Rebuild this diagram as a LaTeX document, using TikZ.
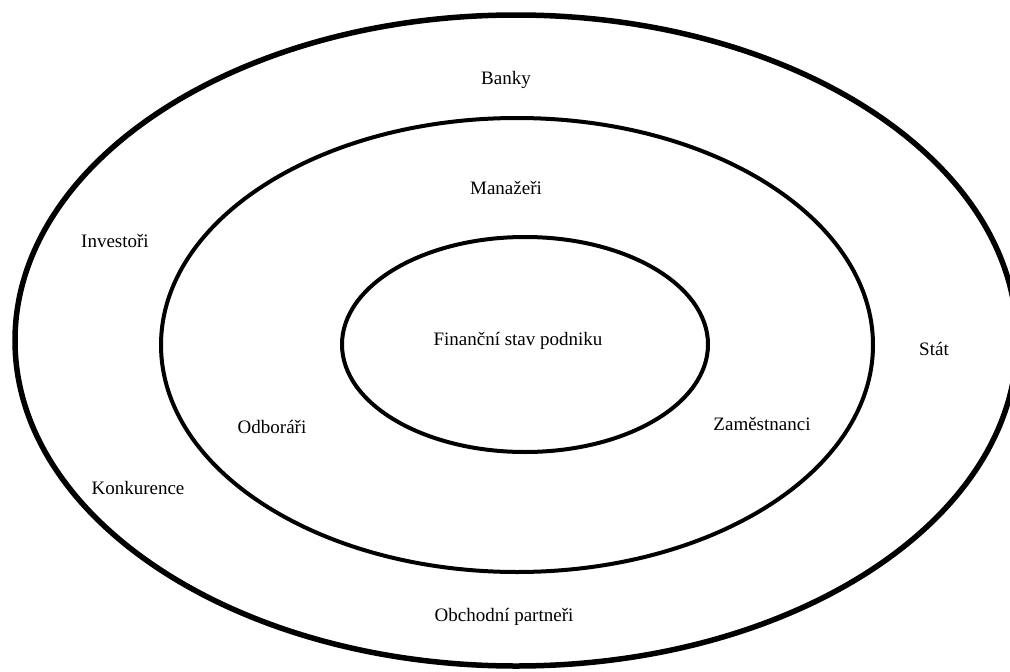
\documentclass[tikz,border=0pt]{standalone}
\usepackage{fontspec}
\setmainfont{Liberation Serif}
\begin{document}
\begin{tikzpicture}[x=1pt,y=-1pt,
  ring/.style={draw=black},
  lbl/.style={font=\fontsize{19}{22}\selectfont, inner sep=0pt}]
\useasboundingbox[fill=white] (0,0) rectangle (1010,672);
\begin{scope}
\clip (0,0) rectangle (1010,672);
\draw[ring, line width=5.5pt] (516,340.5) ellipse [x radius=501, y radius=325.5];
\end{scope}
\draw[ring, line width=4pt] (517,345) ellipse [x radius=356, y radius=227];
\draw[ring, line width=4pt] (525,344.5) ellipse [x radius=183, y radius=107.5];
\node[lbl] (banky) at (506,80) {Banky};
\node[lbl] (man) at (506,188) {Manažeři};
\node[lbl] (inv) at (115,241) {Investoři};
\node[lbl] (fin) at (518,341) {Finanční stav podniku};
\node[lbl] (stat) at (934,349) {Stát};
\node[lbl] (odb) at (272,427) {Odboráři};
\node[lbl] (zam) at (762,424) {Zaměstnanci};
\node[lbl] (konk) at (138,488) {Konkurence};
\node[lbl] (obch) at (504,617) {Obchodní partneři};
\end{tikzpicture}
\end{document}
